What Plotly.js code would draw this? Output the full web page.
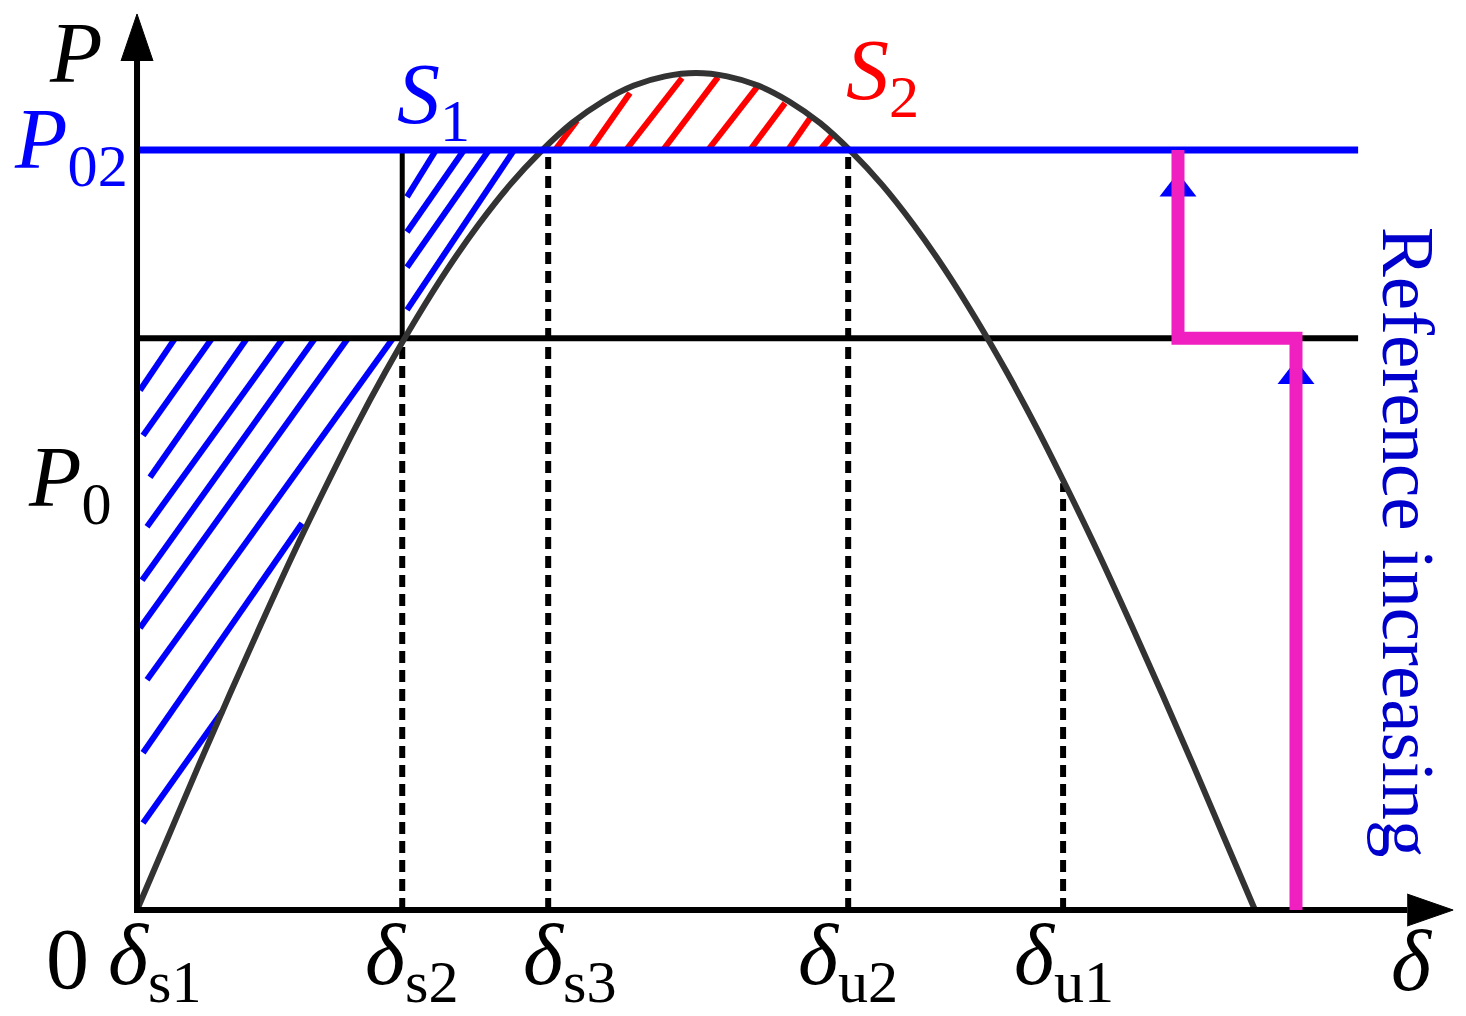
<!DOCTYPE html>
<html>
<head>
<meta charset="utf-8">
<script src="https://cdn.plot.ly/plotly-3.0.1.min.js"></script>
<style>
  html, body { margin: 0; padding: 0; background: #fff; }
  #chart { width: 1466px; height: 1016px; }
</style>
</head>
<body>
<div id="chart"></div>
<script>
// power-angle curve, delta in degrees, P in per unit
const deltaDeg = [0,5,10,15,20,25,30,35,40,45,50,55,60,65,70,75,80,85,90,95,100,105,110,115,120,125,130,135,140,145,150,155,160,165,170,175,180];
const curveP = [0.000,0.087,0.174,0.259,0.342,0.423,0.500,0.574,0.643,0.707,0.766,0.819,0.866,0.906,0.940,0.966,0.985,0.996,1.000,0.996,0.985,0.966,0.940,0.906,0.866,0.819,0.766,0.707,0.643,0.574,0.500,0.423,0.342,0.259,0.174,0.087,0.000];

// power levels
const P02 = 0.908;
const Pmid = 0.683;
const P0 = 0.510;
const lineEnd = 196.6;

// characteristic angles
const markNames = ['s1', 's2', 's3', 'u2', 'u1'];
const markDelta = [0, 42.7, 66.2, 114.5, 149.1];
const markTop = [0, Pmid, P02, P02, P0];

// reference step (magenta) and its arrows
const stepX = [186.6, 186.6, 167.6, 167.6];
const stepY = [0, Pmid, Pmid, P02];
const arrowX = [167.6, 186.6];
const arrowY = [0.862, 0.638];

// S1 hatching (blue)
const s1X0 = [6.12, 12.08, 17.71, 23.51, 28.66, 33.97, 41.22, 26.57, 13.69, 48.14, 52.65, 56.67, 60.70];
const s1Y0 = [0.683, 0.683, 0.683, 0.683, 0.683, 0.683, 0.683, 0.462, 0.237, 0.908, 0.908, 0.908, 0.908];
const s1X1 = [0.48, 0.97, 2.09, 1.61, 0.81, 0.48, 1.61, 0.97, 0.97, 43.47, 43.47, 43.47, 43.47];
const s1Y1 = [0.621, 0.567, 0.517, 0.458, 0.394, 0.337, 0.275, 0.188, 0.104, 0.852, 0.810, 0.768, 0.717];

// S2 hatching (red)
const s2X0 = [67.30, 72.93, 78.73, 84.69, 91.93, 98.70, 104.81, 109.97];
const s2Y0 = [0.908, 0.908, 0.908, 0.908, 0.908, 0.908, 0.908, 0.908];
const s2X1 = [70.84, 79.37, 87.75, 93.54, 99.82, 104.33, 108.36, 112.06];
const s2Y1 = [0.943, 0.976, 0.994, 0.995, 0.983, 0.964, 0.946, 0.927];

// axis arrow heads
const xHeadX = [204.5, 211.9, 204.5];
const xHeadY = [-0.0191, 0, 0.0191];
const yHeadX = [-2.58, 0, 2.58];
const yHeadY = [1.0143, 1.0705, 1.0143];

const FONT = '"Liberation Serif", "Times New Roman", serif';

function segs(x0, y0, x1, y1) {
  const xs = [], ys = [];
  x0.forEach((_, i) => { xs.push(x0[i], x1[i], null); ys.push(y0[i], y1[i], null); });
  return { x: xs, y: ys };
}

const traces = [];
const h1 = segs(s1X0, s1Y0, s1X1, s1Y1);
traces.push({ x: h1.x, y: h1.y, mode: 'lines', line: { color: '#0000ff', width: 6 } });
const h2 = segs(s2X0, s2Y0, s2X1, s2Y1);
traces.push({ x: h2.x, y: h2.y, mode: 'lines', line: { color: '#ff0000', width: 6 } });

// dotted verticals
const vx = [], vy = [];
markDelta.forEach((d, i) => {
  if (i === 0) return;
  vx.push(d, d, null); vy.push(0, markTop[i], null);
});
traces.push({ x: vx, y: vy, mode: 'lines', line: { color: '#000', width: 6, dash: '12px,7px' } });
// solid part of delta_s2
traces.push({ x: [markDelta[1], markDelta[1]], y: [Pmid, P02], mode: 'lines', line: { color: '#000', width: 5 } });

// horizontal levels
traces.push({ x: [0, lineEnd], y: [Pmid, Pmid], mode: 'lines', line: { color: '#000', width: 6 } });

// curve
traces.push({ x: deltaDeg, y: curveP, mode: 'lines', line: { color: '#333333', width: 6, shape: 'spline' } });

traces.push({ x: [0, lineEnd], y: [P02, P02], mode: 'lines', line: { color: '#0000ff', width: 7 } });

// axes
traces.push({ x: [0, 0, xHeadX[0]], y: [yHeadY[0], 0, 0], mode: 'lines', line: { color: '#000', width: 6 } });
traces.push({ x: xHeadX, y: xHeadY, mode: 'lines', fill: 'toself', fillcolor: '#000', line: { color: '#000', width: 1 } });
traces.push({ x: yHeadX, y: yHeadY, mode: 'lines', fill: 'toself', fillcolor: '#000', line: { color: '#000', width: 1 } });

// arrows on the step
traces.push({ x: arrowX, y: arrowY, mode: 'markers', marker: { symbol: 'triangle-up', size: 32, color: '#0000ff' } });
traces.push({ x: stepX, y: stepY, mode: 'lines', line: { color: '#f01fbf', width: 13 } });

const big = { family: FONT, size: 86, color: '#000' };
const ann = [];
function label(text, x, y, color) {
  ann.push({ text: text, x: x, y: y, xref: 'x', yref: 'y', showarrow: false,
    xanchor: 'center', yanchor: 'middle', font: Object.assign({}, big, { color: color }) });
}
label('<i>P</i>', -9.82, 1.024, '#000');
label('<i>P</i><sub>02</sub>', -10.55, 0.914, '#0000ff');
label('<i>P</i><sub>0</sub>', -10.79, 0.510, '#000');
label('<i>S</i><sub>1</sub>', 47.66, 0.968, '#0000ff');
label('<i>S</i><sub>2</sub>', 119.95, 0.996, '#ff0000');
label('0', -11.27, -0.058, '#000');
const labelCenters = [2.90, 44.28, 69.72, 114.47, 149.25];
markNames.forEach((n, i) => label('<i>δ</i><sub>' + n + '</sub>', labelCenters[i], -0.061, '#000'));
label('<i>δ</i>', 205.28, -0.061, '#000');
ann.push({ text: 'Reference increasing', x: 204.64, y: 0.440, xref: 'x', yref: 'y', showarrow: false,
  textangle: 90, xanchor: 'center', yanchor: 'middle', font: { family: FONT, size: 75, color: '#0000cc' } });

const layout = {
  width: 1466, height: 1016,
  margin: { l: 0, r: 0, t: 0, b: 0 },
  paper_bgcolor: '#fff', plot_bgcolor: '#fff',
  showlegend: false,
  xaxis: { range: [-22.06, 213.97], visible: false, fixedrange: true },
  yaxis: { range: [-0.1266, 1.0872], visible: false, fixedrange: true },
  annotations: ann
};

Plotly.newPlot('chart', traces, layout, { staticPlot: true });
</script>
</body>
</html>
